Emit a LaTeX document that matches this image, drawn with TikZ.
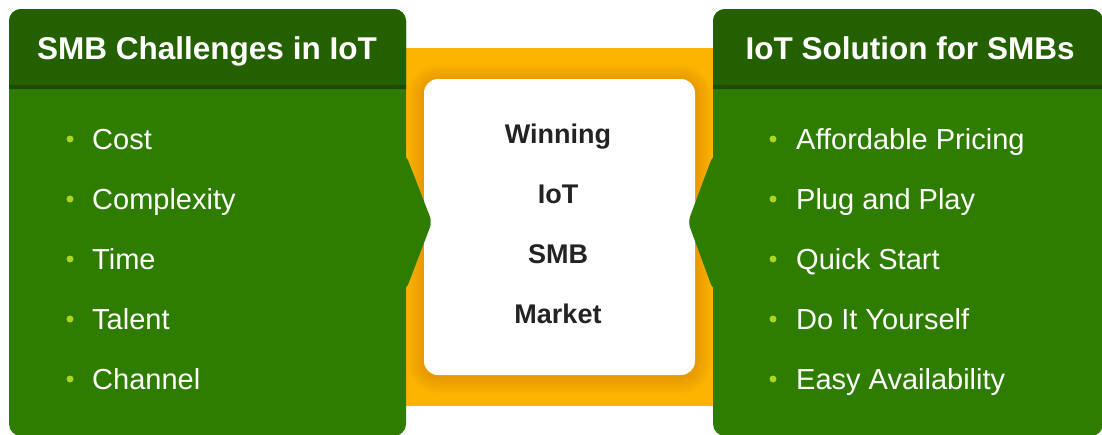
\documentclass[tikz,border=0pt]{standalone}
\usepackage{fontspec}
\setmainfont{Liberation Sans}

\definecolor{hdrgreen}{RGB}{37,96,0}
\definecolor{hdrline}{RGB}{29,76,0}
\definecolor{bodygreen}{RGB}{46,125,0}
\definecolor{amber}{RGB}{253,180,0}
\definecolor{amberdeep}{RGB}{205,120,0}
\definecolor{dotgreen}{RGB}{172,212,32}
\definecolor{inkgray}{RGB}{35,35,35}

\tikzset{
  heading/.style={anchor=base, inner sep=0pt, text=white,
    font=\fontsize{31.5}{36}\selectfont\bfseries},
  item/.style={anchor=base west, inner sep=0pt, text=white,
    font=\fontsize{29}{34}\selectfont},
  centerword/.style={anchor=base, inner sep=0pt, text=inkgray,
    font=\fontsize{27}{32}\selectfont\bfseries},
  bulletdot/.style={circle, fill=dotgreen, inner sep=0pt, minimum size=7pt},
}

\begin{document}
\begin{tikzpicture}[x=1pt,y=-1pt]
\useasboundingbox (0,0) rectangle (1102,434);
\clip (0,0) rectangle (1102,434);

% amber band behind the centre card
\fill[amber] (406,48) rectangle (713,406);

% soft glow around the centre card, built from stacked translucent layers
\foreach \g in {16,14,...,2} {
  \fill[amberdeep, opacity=0.055, rounded corners={14pt+\g pt}]
    ({424-\g},{81-\g}) rectangle ({695+\g},{377+\g});
}

% centre card
\fill[white, rounded corners=14pt] (424,79) rectangle (695,375);

% left panel
\fill[bodygreen, rounded corners=12pt] (9,9) rectangle (406,436);
\fill[bodygreen, rounded corners=6pt]
  (392,155) -- (406,155) -- (432,222) -- (406,290) -- (392,290) -- cycle;
\fill[hdrgreen, rounded corners=12pt] (9,89) -- (9,9) -- (406,9) -- (406,89);
\fill[hdrgreen] (9,60) rectangle (406,89);
\fill[hdrline] (9,85) rectangle (406,89);

% right panel
\fill[bodygreen, rounded corners=12pt] (713,9) rectangle (1103,436);
\fill[bodygreen, rounded corners=6pt]
  (727,155) -- (713,155) -- (688,222) -- (713,290) -- (727,290) -- cycle;
\fill[hdrgreen, rounded corners=12pt] (713,89) -- (713,9) -- (1103,9) -- (1103,89);
\fill[hdrgreen] (713,60) rectangle (1103,89);
\fill[hdrline] (713,85) rectangle (1103,89);

% headings
\node[heading] (lhead) at (207,59.5) {SMB Challenges in IoT};
\node[heading] (rhead) at (910,59.5) {IoT Solution for SMBs};

% left list
\foreach \t [count=\i] in {Cost, Complexity, Time, Talent, Channel} {
  \node[bulletdot] (ldot\i) at (70,{139+60*(\i-1)}) {};
  \node[item] (litem\i) at (92,{149+60*(\i-1)}) {\t};
}

% right list
\foreach \t [count=\i] in {Affordable Pricing, Plug and Play, Quick Start,
                           Do It Yourself, Easy Availability} {
  \node[bulletdot] (rdot\i) at (773,{139+60*(\i-1)}) {};
  \node[item] (ritem\i) at (796,{149+60*(\i-1)}) {\t};
}

% centre card text
\node[centerword] (w1) at (558,143) {Winning};
\node[centerword] (w2) at (558,203) {IoT};
\node[centerword] (w3) at (558,263) {SMB};
\node[centerword] (w4) at (558,323) {Market};
\end{tikzpicture}
\end{document}
